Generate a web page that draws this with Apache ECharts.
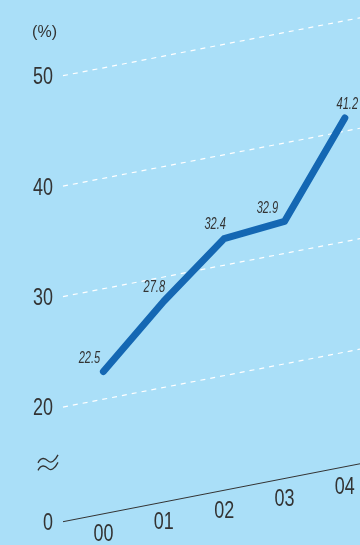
<!DOCTYPE html>
<html><head><meta charset="utf-8">
<style>html,body{margin:0;padding:0;background:#aadff8;} #c{width:360px;height:545px;}</style>
<script src="https://cdn.jsdelivr.net/npm/echarts@6/dist/echarts.min.js"></script>
</head><body><div id="c"></div>
<script>
// ---- data ----
const years = ['00', '01', '02', '03', '04'];
const rates = [22.5, 27.8, 32.4, 32.9, 41.2];
const yTicks = [0, 20, 30, 40, 50];
const gridValues = [20, 30, 40, 50];
const axisBreak = [0, 20];
const unitLabel = '(%)';

// ---- style constants ----
const SKEW = 0.195;
const X_MIN = -0.67, X_MAX = 4.5;
const LABEL_DX = [-14, -9.5, -9, -17, 2.5];
const LABEL_DY = [-13, -14, -14, -13, -14];
const FONT = '"Liberation Sans","Arimo",Arial,sans-serif';
const INK = '#333';
const BLUE = '#1467b3';

const chart = echarts.init(document.getElementById('c'), null, {renderer: 'canvas'});

function skewPt(api, x, y) {
  const p = api.coord([x, y]);
  const o = api.coord([X_MIN, y]);
  return [p[0], p[1] - SKEW * (p[0] - o[0])];
}

const option = {
  backgroundColor: '#aadff8',
  animation: false,
  grid: {left: 63, top: 75.7, bottom: 23.3, width: 312, outerBoundsMode: 'none', containLabel: false},
  xAxis: {type: 'value', min: X_MIN, max: X_MAX, show: false},
  yAxis: {
    type: 'value', min: 0, max: 50, interval: 10,
    breaks: [{start: axisBreak[0], end: axisBreak[1], gap: '25.7%'}],
    breakArea: {show: false},
    axisLine: {show: false}, axisTick: {show: false}, splitLine: {show: false},
    axisLabel: {show: false}
  },
  series: [
    {
      type: 'custom', silent: true,
      data: gridValues.map(function (v) { return [X_MIN, v]; }),
      renderItem: function (params, api) {
        const v = api.value(1);
        const a = skewPt(api, X_MIN, v), b = skewPt(api, X_MAX, v);
        return {type: 'line', shape: {x1: a[0], y1: a[1], x2: b[0], y2: b[1]},
          style: {stroke: '#ffffff', lineWidth: 1.2, lineDash: [5, 5]}};
      }
    },
    {
      type: 'custom', silent: true,
      data: yTicks.map(function (v) { return [X_MIN, v]; }),
      renderItem: function (params, api) {
        const p = api.coord([api.value(0), api.value(1)]);
        const children = [{type: 'text', x: p[0] - 10, y: p[1] + 2, scaleX: 0.78,
          style: {text: String(api.value(1)), fill: INK, fontSize: 23, fontFamily: FONT, align: 'right', verticalAlign: 'middle'}}];
        if (params.dataIndex === params.dataInsideLength - 1) {
          children.push({type: 'text', x: p[0] - 6, y: p[1] - 43,
            style: {text: unitLabel, fill: INK, fontSize: 16, fontFamily: FONT, align: 'right', verticalAlign: 'middle'}});
        }
        return {type: 'group', children: children};
      }
    },
    {
      type: 'custom', silent: true,
      data: [[X_MIN, yTicks[0]]],
      renderItem: function (params, api) {
        const v = api.value(1);
        const a = skewPt(api, X_MIN, v), b = skewPt(api, X_MAX, v);
        const lo = api.coord([X_MIN, axisBreak[0]]), hi = api.coord([X_MIN, axisBreak[1]]);
        const cx = lo[0] - 15, cy = (lo[1] + hi[1]) / 2;
        const wave = 'M-10,2 C-7,-4 -3,-3 0,0 C3,3 7,0 10,-6';
        return {type: 'group', children: [
          {type: 'line', shape: {x1: a[0], y1: a[1], x2: b[0], y2: b[1]}, style: {stroke: INK, lineWidth: 1}},
          {type: 'path', x: cx, y: cy - 3.5, shape: {pathData: wave}, style: {stroke: INK, fill: null, lineWidth: 1.3}},
          {type: 'path', x: cx, y: cy + 4, shape: {pathData: wave}, style: {stroke: INK, fill: null, lineWidth: 1.3}}
        ]};
      }
    },
    {
      type: 'custom', silent: true,
      data: years.map(function (_, i) { return [i, yTicks[0]]; }),
      renderItem: function (params, api) {
        const p = skewPt(api, api.value(0), api.value(1));
        return {type: 'text', x: p[0], y: p[1] + 21, scaleX: 0.78,
          style: {text: years[params.dataIndex], fill: INK, fontSize: 23, fontFamily: FONT, align: 'center', verticalAlign: 'middle'}};
      }
    },
    {
      type: 'custom', silent: true,
      data: rates.map(function (v, i) { return [i, v]; }),
      renderItem: function (params, api) {
        const i = params.dataIndex;
        const p = skewPt(api, api.value(0), api.value(1));
        const children = [];
        if (i === 0) {
          const pts = [];
          for (let j = 0; j < params.dataInsideLength; j++) {
            pts.push(skewPt(api, api.value(0, j), api.value(1, j)));
          }
          children.push({type: 'polyline', shape: {points: pts},
            style: {stroke: BLUE, lineWidth: 7, fill: null, lineCap: 'round', lineJoin: 'round'}});
        }
        children.push({type: 'text', x: p[0] + LABEL_DX[i], y: p[1] + LABEL_DY[i], scaleX: 0.65,
          style: {text: api.value(1).toFixed(1), fill: INK, fontSize: 17, fontStyle: 'italic',
            fontFamily: FONT, align: 'center', verticalAlign: 'middle'}});
        return {type: 'group', children: children};
      }
    }
  ]
};
chart.setOption(option);
</script>
</body></html>
